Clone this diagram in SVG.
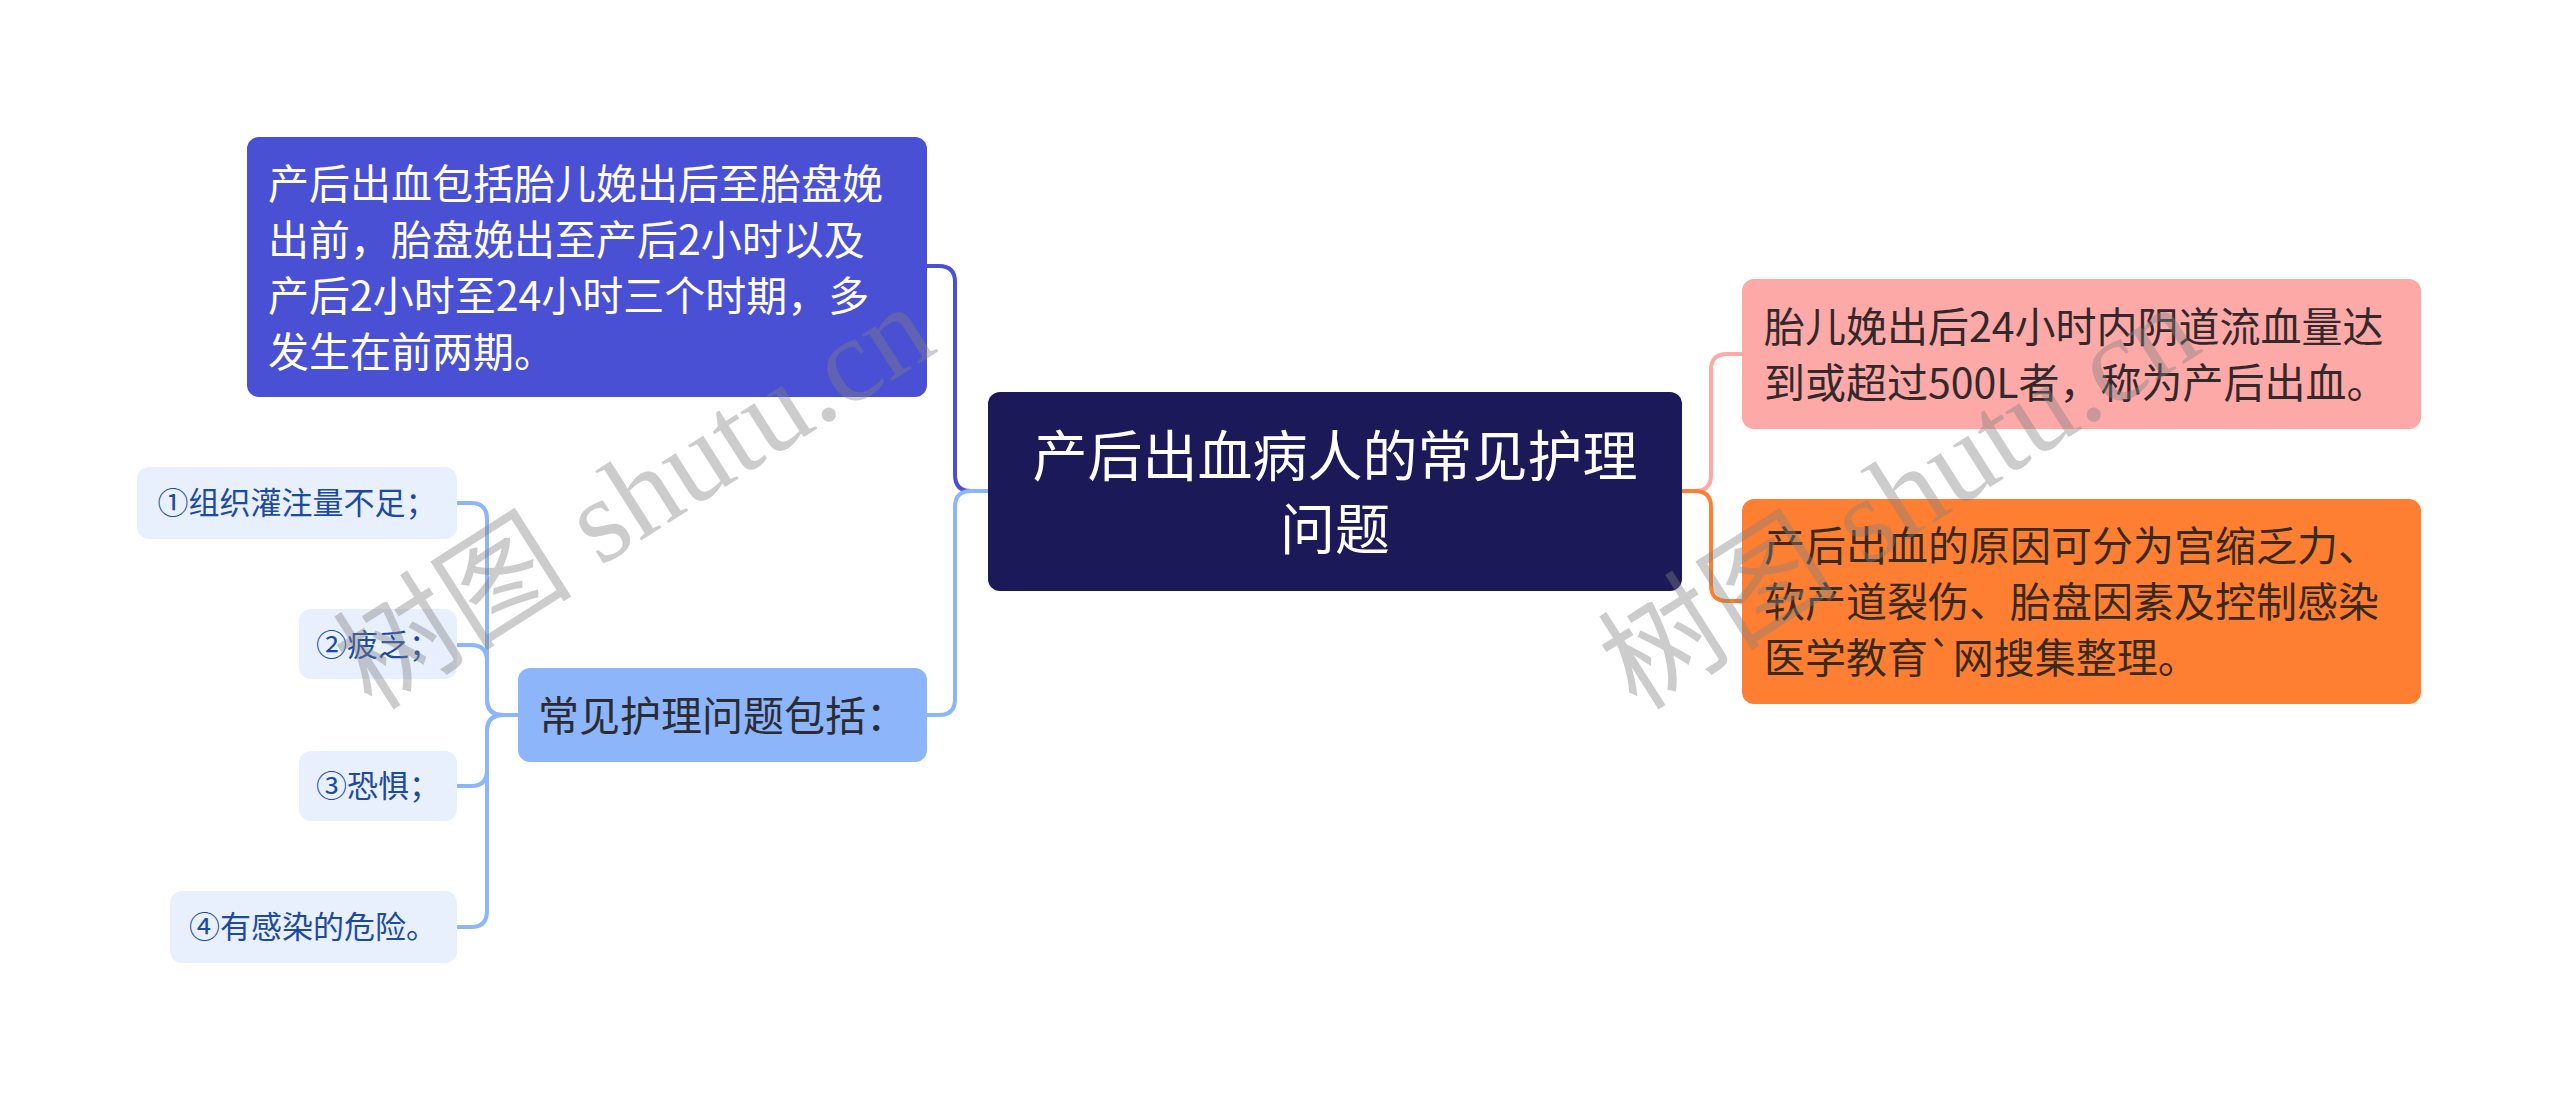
<svg xmlns="http://www.w3.org/2000/svg" width="2560" height="1102" viewBox="0 0 2560 1102">
<style>
text{font-family:"Noto Sans CJK SC","Noto Sans",sans-serif}
.c{fill:none;stroke-width:4;stroke-linecap:round;stroke-linejoin:round}
.t41{font-size:41px}
.leaf rect{fill:#e8f0fd}
.leaf text{font-size:31px;fill:#1d4aa0;text-anchor:middle}
.wm{font-family:"Liberation Serif","Noto Sans CJK SC",serif;font-size:120px;fill:#808080;fill-opacity:0.4}
</style>
<rect width="2560" height="1102" fill="#ffffff"/>
<g id="connectors">
<path class="c" stroke="#4a50d4" d="M988,491 H971 Q955,491 955,475 V282 Q955,266 939,266 H927"/>
<path class="c" stroke="#8db5fa" d="M988,491 H971 Q955,491 955,507 V699 Q955,715 939,715 H927"/>
<path class="c" stroke="#fda9a8" d="M1682,491 H1695 Q1711,491 1711,475 V370 Q1711,354 1727,354 H1742"/>
<path class="c" stroke="#ff7f32" d="M1682,491 H1695 Q1711,491 1711,507 V585 Q1711,601 1727,601 H1742"/>
<path class="c" stroke="#8db5fa" d="M518,715 H503 Q487,715 487,699 V519 Q487,503 471,503 H457"/>
<path class="c" stroke="#8db5fa" d="M518,715 H503 Q487,715 487,699 V661 Q487,645 471,645 H457"/>
<path class="c" stroke="#8db5fa" d="M518,715 H503 Q487,715 487,731 V770 Q487,786 471,786 H457"/>
<path class="c" stroke="#8db5fa" d="M518,715 H503 Q487,715 487,731 V911 Q487,927 471,927 H457"/>
</g>
<g id="root">
<rect x="988" y="392" width="694" height="199" rx="12" fill="#1b1957"/>
<text x="1335" y="476" font-size="55" fill="#ffffff" text-anchor="middle">产后出血病人的常见护理</text>
<text x="1335" y="549" font-size="55" fill="#ffffff" text-anchor="middle">问题</text>
</g>
<g id="n-definition-periods">
<rect x="247" y="137" width="680" height="260" rx="12" fill="#4a50d4"/>
<text class="t41" fill="#ffffff"><tspan x="268" y="199">产后出血包括胎儿娩出后至胎盘娩</tspan><tspan x="268" y="255">出前，胎盘娩出至产后2小时以及</tspan><tspan x="268" y="311">产后2小时至24小时三个时期，多</tspan><tspan x="268" y="367">发生在前两期。</tspan></text>
</g>
<g id="n-problems">
<rect x="518" y="668" width="409" height="94" rx="12" fill="#8db5fa"/>
<text class="t41" x="538" y="731" fill="#2b2b33">常见护理问题包括：</text>
</g>
<g id="n-leaf1" class="leaf">
<rect x="137" y="467" width="320" height="72" rx="12"/>
<text x="297" y="514">①组织灌注量不足；</text>
</g>
<g id="n-leaf2" class="leaf">
<rect x="299" y="609" width="158" height="70" rx="12"/>
<text x="378" y="656">②疲乏；</text>
</g>
<g id="n-leaf3" class="leaf">
<rect x="299" y="751" width="158" height="70" rx="12"/>
<text x="378" y="797">③恐惧；</text>
</g>
<g id="n-leaf4" class="leaf">
<rect x="170" y="891" width="287" height="72" rx="12"/>
<text x="313" y="938">④有感染的危险。</text>
</g>
<g id="n-definition">
<rect x="1742" y="279" width="679" height="150" rx="12" fill="#fda9a8"/>
<text class="t41" fill="#33282a"><tspan x="1764" y="342">胎儿娩出后24小时内阴道流血量达</tspan><tspan x="1764" y="398">到或超过500L者，称为产后出血。</tspan></text>
</g>
<g id="n-causes">
<rect x="1742" y="499" width="679" height="205" rx="12" fill="#ff7f32"/>
<text class="t41" fill="#3a2a1e"><tspan x="1764" y="561">产后出血的原因可分为宫缩乏力、</tspan><tspan x="1764" y="617">软产道裂伤、胎盘因素及控制感染</tspan><tspan x="1764" y="673">医学教育`网搜集整理。</tspan></text>
</g>
<g id="watermarks">
<text class="wm" transform="translate(372,712) rotate(-32.5)">树图 shutu.cn</text>
<text class="wm" transform="translate(1637,712) rotate(-32.5)">树图 shutu.cn</text>
</g>
</svg>
